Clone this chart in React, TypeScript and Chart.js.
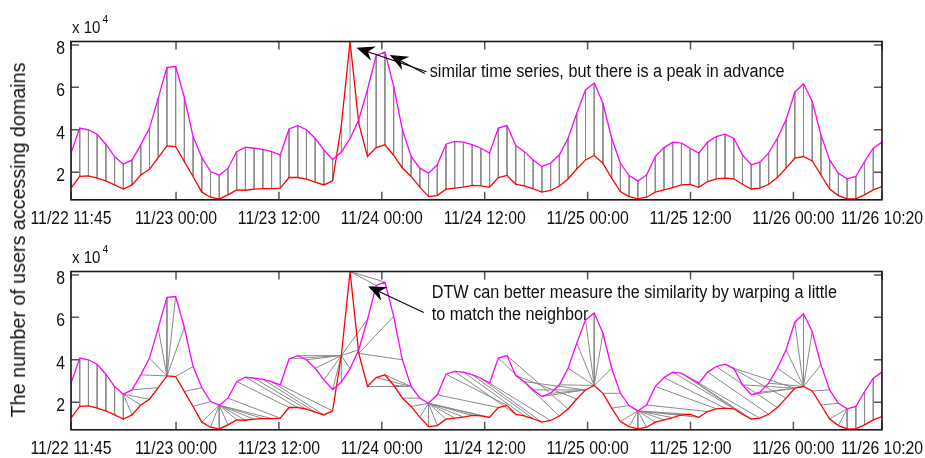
import React, { useEffect, useRef } from 'react';
import { Chart, registerables } from 'chart.js';

Chart.register(...registerables);

// ---- data (values in units of 10^4 users) ----
const SPAN_HOURS = 94.5833; // 11/22 11:45 -> 11/26 10:20
const TICK_HOURS = [0, 12.25, 24.25, 36.25, 48.25, 60.25, 72.25, 84.25, 94.5833];
const TICK_LABELS = [
  '11/22 11:45', '11/23 00:00', '11/23 12:00', '11/24 00:00', '11/24 12:00',
  '11/25 00:00', '11/25 12:00', '11/26 00:00', '11/26 10:20',
];
const Y_TICKS = [2, 4, 6, 8];
const Y_MIN = 0.7;
const Y_MAX = 8.16;

const SERIES_MAGENTA = [
  2.90, 4.08, 4.00, 3.79, 3.32, 2.74, 2.38, 2.58, 3.29, 4.08,
  5.49, 6.94, 6.98, 5.52, 3.68, 2.69, 2.03, 1.86, 2.19, 2.97,
  3.18, 3.13, 3.08, 2.97, 2.82, 4.04, 4.19, 4.00, 3.60, 3.05,
  2.60, 2.95, 3.58, 4.47, 5.90, 7.50, 7.66, 6.05, 4.00, 2.74,
  2.19, 1.95, 2.35, 3.32, 3.45, 3.42, 3.30, 3.13, 2.90, 4.08,
  4.20, 3.26, 2.97, 2.58, 2.27, 2.42, 2.82, 3.60, 4.78, 5.88,
  6.20, 5.25, 3.60, 2.42, 1.84, 1.59, 1.87, 2.74, 3.16, 3.42,
  3.37, 3.13, 2.90, 3.42, 3.68, 3.79, 3.60, 2.82, 2.35, 2.47,
  2.90, 3.60, 4.47, 5.77, 6.17, 5.33, 3.76, 2.58, 1.95, 1.69,
  1.80, 2.50, 3.13, 3.42,
];
const SERIES_RED = [
  1.25, 1.80, 1.83, 1.72, 1.59, 1.40, 1.21, 1.40, 1.87, 2.14,
  2.69, 3.24, 3.21, 2.50, 1.80, 1.06, 0.82, 0.74, 0.93, 1.17,
  1.15, 1.20, 1.23, 1.23, 1.25, 1.75, 1.75, 1.67, 1.53, 1.40,
  1.59, 4.20, 8.16, 4.30, 2.74, 3.16, 3.29, 2.80, 2.20, 1.80,
  1.30, 0.85, 0.90, 1.20, 1.25, 1.30, 1.38, 1.36, 1.29, 1.75,
  1.85, 1.43, 1.36, 1.22, 1.06, 1.14, 1.35, 1.68, 2.15, 2.58,
  2.79, 2.42, 1.72, 1.09, 0.85, 0.74, 0.82, 1.06, 1.17, 1.27,
  1.40, 1.43, 1.29, 1.56, 1.69, 1.72, 1.69, 1.43, 1.21, 1.25,
  1.43, 1.75, 2.19, 2.66, 2.74, 2.53, 1.87, 1.21, 0.90, 0.74,
  0.74, 0.93, 1.17, 1.32,
];
const DTW_WINDOW = 7; // max index shift allowed in the warping path

// annotations (in data coordinates: sample index, value)
const NOTE_TOP = ['similar time series, but there is a peak in advance'];
const NOTE_TOP_POS = [41.14, 6.47];
const NOTE_TOP_LINE_STEP = 0;
const ARROWS_TOP = [
  [40.76, 6.73, 32.74, 7.86],
  [40.57, 6.65, 36.56, 7.52],
];
const NOTE_BOTTOM = ['DTW can better measure the similarity by warping a little', 'to match the neighbor'];
const NOTE_BOTTOM_POS = [41.37, 6.91];
const NOTE_BOTTOM_LINE_STEP = 1.04;
const ARROWS_BOTTOM = [[40.45, 6.23, 34.07, 7.46]];

const FONT = '"Liberation Sans", Arial, sans-serif';
const TEXT_COLOR = '#111';

const N = SERIES_MAGENTA.length;
const hourToIndex = (h: number) => (h / SPAN_HOURS) * (N - 1);

function dtwPath(a: number[], b: number[], w: number): [number, number][] {
  const n = a.length, m = b.length;
  const D: number[][] = [];
  for (let i = 0; i < n; i++) {
    D.push(new Array(m).fill(Infinity));
    for (let j = 0; j < m; j++) {
      if (Math.abs(i - j) > w) continue;
      const c = Math.abs(a[i] - b[j]);
      if (i === 0 && j === 0) D[i][j] = c;
      else {
        const d = i > 0 && j > 0 ? D[i - 1][j - 1] : Infinity;
        const u = i > 0 ? D[i - 1][j] : Infinity;
        const l = j > 0 ? D[i][j - 1] : Infinity;
        D[i][j] = c + Math.min(d, u, l);
      }
    }
  }
  const path: [number, number][] = [];
  let i = n - 1, j = m - 1;
  path.push([i, j]);
  while (i > 0 || j > 0) {
    if (i === 0) j--;
    else if (j === 0) i--;
    else {
      const d = D[i - 1][j - 1], u = D[i - 1][j], l = D[i][j - 1];
      if (d <= u && d <= l) { i--; j--; }
      else if (u <= l) i--;
      else j--;
    }
    path.push([i, j]);
  }
  return path.reverse();
}

function pairLines(pairs: [number, number][]) {
  const pts: { x: number; y: number | null }[] = [];
  for (const [i, j] of pairs) {
    pts.push({ x: i, y: SERIES_MAGENTA[i] });
    pts.push({ x: j, y: SERIES_RED[j] });
    pts.push({ x: j, y: null });
  }
  return pts;
}

function drawArrow(ctx: CanvasRenderingContext2D, x0: number, y0: number, x1: number, y1: number) {
  const ang = Math.atan2(y1 - y0, x1 - x0);
  const L = 18, W = 7.5, notch = 6;
  const ca = Math.cos(ang), sa = Math.sin(ang);
  ctx.beginPath();
  ctx.moveTo(x0, y0);
  ctx.lineTo(x1 - ca * (L - notch), y1 - sa * (L - notch));
  ctx.strokeStyle = '#000';
  ctx.lineWidth = 1.1;
  ctx.stroke();
  const bx = x1 - ca * L, by = y1 - sa * L;
  ctx.beginPath();
  ctx.moveTo(x1, y1);
  ctx.lineTo(bx - sa * W, by + ca * W);
  ctx.lineTo(x1 - ca * (L - notch), y1 - sa * (L - notch));
  ctx.lineTo(bx + sa * W, by - ca * W);
  ctx.closePath();
  ctx.fillStyle = '#000';
  ctx.fill();
}

function squeezedText(ctx: CanvasRenderingContext2D, t: string, x: number, y: number, sx: number, align: CanvasTextAlign) {
  ctx.save();
  ctx.translate(x, y);
  ctx.scale(sx, 1);
  ctx.textAlign = align;
  ctx.fillText(t, 0, 0);
  ctx.restore();
}

const framePlugin = {
  id: 'frame',
  afterDraw(chart: any, _args: any, opts: any) {
    const { ctx, chartArea: a, scales } = chart;
    const x = scales.x, y = scales.y;
    ctx.save();
    // inward ticks on all four sides
    ctx.strokeStyle = '#555';
    ctx.lineWidth = 1.5;
    ctx.beginPath();
    const tl = 8;
    for (const v of Y_TICKS) {
      const py = y.getPixelForValue(v);
      ctx.moveTo(a.left, py); ctx.lineTo(a.left + tl, py);
      ctx.moveTo(a.right, py); ctx.lineTo(a.right - tl, py);
    }
    for (const h of TICK_HOURS) {
      const px = x.getPixelForValue(hourToIndex(h));
      ctx.moveTo(px, a.bottom); ctx.lineTo(px, a.bottom - tl);
      ctx.moveTo(px, a.top); ctx.lineTo(px, a.top + tl);
    }
    ctx.stroke();
    // box
    ctx.strokeStyle = '#1a1a1a';
    ctx.lineWidth = 1.6;
    ctx.strokeRect(a.left, a.top, a.right - a.left, a.bottom - a.top);

    ctx.fillStyle = TEXT_COLOR;
    ctx.textBaseline = 'alphabetic';
    // tick labels
    ctx.font = `19px ${FONT}`;
    TICK_HOURS.forEach((h, k) => {
      squeezedText(ctx, TICK_LABELS[k], x.getPixelForValue(hourToIndex(h)), a.bottom + 24.3, 0.83, 'center');
    });
    for (const v of Y_TICKS) {
      squeezedText(ctx, String(v), a.left - 6, y.getPixelForValue(v) + 8.8, 0.83, 'right');
    }
    // exponent label
    ctx.font = `16px ${FONT}`;
    squeezedText(ctx, 'x 10', a.left + 1, a.top - 9, 0.94, 'left');
    const w = ctx.measureText('x 10').width * 0.94;
    ctx.font = `11px ${FONT}`;
    squeezedText(ctx, '4', a.left + 3 + w, a.top - 19, 0.94, 'left');
    // annotation
    ctx.font = `18px ${FONT}`;
    const [nx, ny] = opts.pos;
    opts.lines.forEach((t: string, k: number) => {
      squeezedText(ctx, t, x.getPixelForValue(nx), y.getPixelForValue(ny - k * opts.step), 0.9, 'left');
    });
    for (const [x0, y0, x1, y1] of opts.arrows) {
      drawArrow(ctx, x.getPixelForValue(x0), y.getPixelForValue(y0), x.getPixelForValue(x1), y.getPixelForValue(y1));
    }
    ctx.restore();
  },
};

function makeConfig(pairs: [number, number][], note: any, canvasH: number): any {
  const axisH = 28;
  return {
    type: 'line',
    data: {
      datasets: [
        {
          data: SERIES_MAGENTA.map((v, i) => ({ x: i, y: v })),
          borderColor: '#ff00ff', borderWidth: 1.3, pointRadius: 0, tension: 0, order: 0,
        },
        {
          data: SERIES_RED.map((v, i) => ({ x: i, y: v })),
          borderColor: '#ff0000', borderWidth: 1.3, pointRadius: 0, tension: 0, order: 1,
        },
        {
          data: pairLines(pairs),
          borderColor: '#8a8a8a', borderWidth: 1, pointRadius: 0, tension: 0, spanGaps: false, order: 2,
        },
      ],
    },
    options: {
      animation: false,
      responsive: false,
      events: [],
      layout: { padding: { left: 31, right: 43, top: 41.5, bottom: canvasH - 199.8 - axisH } },
      plugins: {
        legend: { display: false },
        tooltip: { enabled: false },
        frame: note,
      },
      scales: {
        x: {
          type: 'linear',
          min: 0,
          max: N - 1,
          grid: { display: false, drawTicks: false },
          border: { display: false },
          afterBuildTicks: (s: any) => { s.ticks = TICK_HOURS.map((h) => ({ value: hourToIndex(h) })); },
          afterFit: (s: any) => { s.height = axisH; s.paddingLeft = 0; s.paddingRight = 0; },
          ticks: { display: false },
        },
        y: {
          type: 'linear',
          min: Y_MIN,
          max: Y_MAX,
          grid: { display: false, drawTicks: false },
          border: { display: false },
          afterBuildTicks: (s: any) => { s.ticks = Y_TICKS.map((v) => ({ value: v })); },
          afterFit: (s: any) => { s.width = 40; s.paddingTop = 0; s.paddingBottom = 0; },
          ticks: { display: false },
        },
      },
    },
    plugins: [framePlugin],
  };
}

export default function App() {
  const topRef = useRef<HTMLCanvasElement>(null);
  const botRef = useRef<HTMLCanvasElement>(null);

  useEffect(() => {
    const vertical: [number, number][] = SERIES_MAGENTA.map((_, i) => [i, i]);
    const warped = dtwPath(SERIES_MAGENTA, SERIES_RED, DTW_WINDOW);
    const c1 = new Chart(topRef.current!, makeConfig(vertical, { lines: NOTE_TOP, pos: NOTE_TOP_POS, step: NOTE_TOP_LINE_STEP, arrows: ARROWS_TOP }, 230));
    const c2 = new Chart(botRef.current!, makeConfig(warped, { lines: NOTE_BOTTOM, pos: NOTE_BOTTOM_POS, step: NOTE_BOTTOM_LINE_STEP, arrows: ARROWS_BOTTOM }, 228));
    return () => { c1.destroy(); c2.destroy(); };
  }, []);

  return (
    <div style={{ position: 'absolute', left: 0, top: 0, width: 925, height: 458, overflow: 'hidden', background: '#fff' }}>
      <canvas ref={topRef} width={925} height={230} style={{ position: 'absolute', left: 0, top: 0, width: 925, height: 230 }} />
      <canvas ref={botRef} width={925} height={228} style={{ position: 'absolute', left: 0, top: 230, width: 925, height: 228 }} />
      <div
        style={{
          position: 'absolute', left: 18, top: 240, transform: 'translate(-50%, -50%) rotate(-90deg) scaleX(0.985)',
          whiteSpace: 'nowrap', fontFamily: FONT, fontSize: 20, color: TEXT_COLOR, lineHeight: 1,
        }}
      >
        The number of users accessing domains
      </div>
    </div>
  );
}
